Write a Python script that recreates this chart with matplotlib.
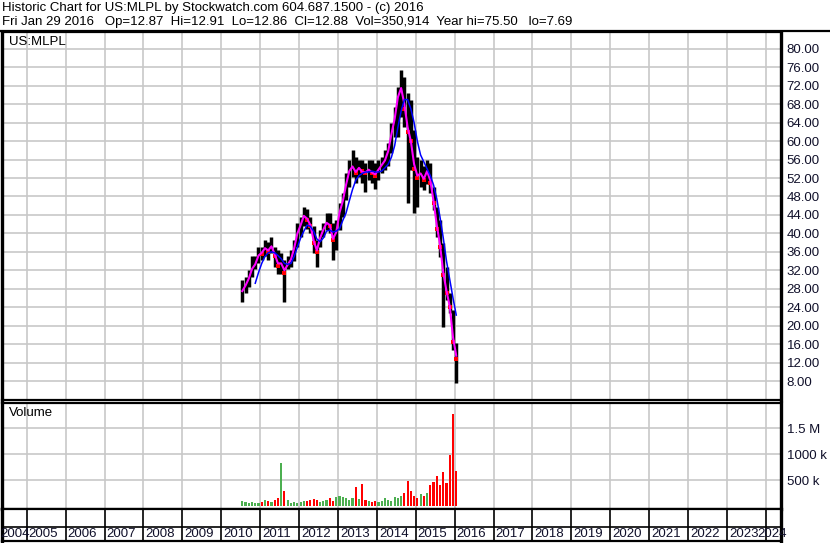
import matplotlib
matplotlib.use('Agg')
import matplotlib.pyplot as plt
import numpy as np

plt.rcParams['font.family'] = ['Liberation Sans', 'DejaVu Sans']

# monthly data, Jul 2010 .. Jan 2016
start_year = 2010
start_month = 7
highs = [29.8, 30.6, 32.0, 35.0, 35.0, 37.1,
         37.1, 38.6, 38.2, 39.3, 37.1, 36.4, 35.7, 34.2, 35.0, 36.4, 38.5, 42.2,
         43.6, 45.8, 45.3, 43.6, 41.5, 38.6, 40.7, 42.2, 44.4, 44.4, 42.2, 42.9,
         46.6, 48.7, 53.0, 55.9, 58.1, 56.6, 55.9, 55.9, 55.2, 55.9, 55.9, 55.2,
         55.9, 56.6, 58.1, 59.5, 63.9, 67.4, 71.7, 75.5, 73.9, 70.4, 68.9, 62.3,
         56.5, 55.9, 54.5, 55.9, 55.2, 50.0, 45.7, 42.9, 37.9, 32.7, 27.0, 23.4,
         16.3]
lows = [25.2, 27.0, 28.3, 30.6, 32.2, 33.5,
        34.2, 35.0, 34.2, 35.7, 32.8, 31.3, 31.3, 25.2, 32.2, 32.8, 34.0, 37.1,
        39.3, 41.5, 41.0, 40.0, 35.7, 32.8, 37.1, 39.3, 40.7, 40.0, 34.2, 36.4,
        40.7, 43.6, 47.2, 50.1, 52.3, 50.9, 52.2, 50.9, 49.0, 51.5, 50.9, 49.6,
        51.5, 53.0, 53.7, 54.5, 57.4, 60.9, 60.9, 65.2, 63.0, 46.6, 53.7, 44.4,
        45.7, 50.1, 49.4, 50.8, 48.7, 45.0, 39.2, 34.9, 19.8, 25.6, 22.7, 14.7,
        7.69]
closes = [28.0, 29.0, 30.5, 33.0, 33.5, 36.0,
          35.5, 37.0, 36.0, 37.5, 35.0, 33.0, 34.0, 31.5, 33.5, 34.5, 37.5, 40.5,
          42.0, 44.0, 43.0, 41.5, 38.0, 36.0, 39.5, 41.0, 42.5, 41.5, 38.5, 40.5,
          45.0, 47.0, 51.0, 54.0, 55.0, 53.0, 54.5, 53.5, 53.0, 54.0, 53.0, 52.5,
          54.0, 55.0, 56.0, 58.0, 62.0, 65.0, 70.0, 72.0, 67.0, 62.0, 60.0, 54.0,
          52.0, 53.0, 51.5, 54.0, 51.0, 46.5, 41.0, 37.0, 31.0, 27.0, 24.0, 16.5,
          12.88]
ma_short = [27.5, 28.7, 30.2, 32.3, 33.3, 35.2,
            35.8, 36.8, 36.3, 37.2, 35.5, 33.5, 33.5, 32.0, 33.2, 34.3, 36.8, 40.0,
            41.8, 43.8, 43.2, 41.8, 38.5, 36.3, 39.0, 40.8, 42.3, 41.8, 38.8, 40.3,
            44.5, 47.0, 50.5, 53.5, 54.5, 53.3, 54.2, 53.3, 53.2, 53.8, 53.2, 52.8,
            53.8, 54.8, 55.8, 57.8, 61.5, 64.8, 69.5, 71.5, 68.0, 63.0, 60.0, 55.0,
            52.5, 53.0, 51.8, 53.5, 51.5, 47.0, 41.8, 37.5, 31.5, 27.5, 24.2, 17.5,
            13.5]
# long average starts Nov 2010
ma_long = [29.2, 31.5,
           33.5, 35.0, 35.8, 36.0, 35.8, 35.2, 34.5, 33.5, 33.3, 33.5, 35.0, 37.0,
           39.0, 40.5, 41.8, 41.5, 40.5, 38.8, 38.2, 39.0, 40.5, 40.7, 40.3, 40.5,
           41.0, 42.8, 44.4, 47.0, 49.5, 51.5, 52.5, 53.0, 53.3, 53.3, 53.5, 53.3,
           53.3, 53.5, 54.2, 55.0, 56.5, 59.0, 63.0, 66.5, 69.0, 69.0, 67.0, 64.0,
           60.0, 57.0, 55.5, 54.0, 52.5, 50.5, 47.5, 43.5, 39.0, 34.0, 30.0, 26.0,
           22.3]
volume_k = [110, 90, 70, 80, 60, 70,
            90, 120, 110, 90, 130, 150, 827, 300, 120, 70, 80, 70,
            90, 100, 110, 120, 140, 120, 90, 100, 120, 150, 110, 170,
            200, 180, 150, 130, 160, 380, 140, 423, 130, 110, 90, 100,
            80, 110, 150, 120, 100, 180, 150, 200, 250, 487, 300, 200,
            150, 230, 200, 250, 400, 470, 583, 400, 654, 450, 987, 1775,
            680]

price_ticks = np.arange(8, 81, 4)
vol_ticks = [500, 1000, 1500]
vol_labels = ['500 k', '1000 k', '1.5 M']
years = list(range(2004, 2025))

header1 = 'Historic Chart for US:MLPL by Stockwatch.com 604.687.1500 - (c) 2016'
header2 = ('Fri Jan 29 2016   Op=12.87  Hi=12.91  Lo=12.86  Cl=12.88  '
           'Vol=350,914  Year hi=75.50   lo=7.69')

n = len(closes)
t = np.array([start_year + (start_month - 1 + i + 0.5) / 12 for i in range(n)])
t_long = t[n - len(ma_long):]

W, H = 830, 543
fig = plt.figure(figsize=(W / 100, H / 100), dpi=100)


def rect(x0, y0, x1, y1):
    return [x0 / W, 1 - y1 / H, (x1 - x0) / W, (y1 - y0) / H]


xlim = (2004.365, 2024.39)
px_per_year = 779 / (xlim[1] - xlim[0])
grid_c = '#c8c8c8'
fs = 9.5
txt_c = '#10102a'

# header
fig.text(2 / W, 1 - 8.5 / H, header1, fontsize=fs, va='center', ha='left')
fig.text(2 / W, 1 - 22.5 / H, header2, fontsize=fs, va='center', ha='left')

# price panel
ax = fig.add_axes(rect(2, 32, 781, 400))
ax.set_xticks(years[1:])
ax.set_yticks(price_ticks)
ax.set_xlim(*xlim)
ax.set_ylim(3.9, 83.64)
ax.grid(True, color=grid_c, lw=1.2)
ax.set_axisbelow(True)
ax.tick_params(length=0, labelbottom=False, labelleft=False, labelright=True,
               labelsize=fs, pad=4, labelcolor=txt_c)
ax.set_yticklabels(['%.2f' % v for v in price_ticks])

ax.vlines(t, lows, highs, color='black', lw=2.5, zorder=2)
prev = np.r_[closes[0], closes[:-1]]
down = np.array(closes) < prev
ax.plot(t[down], np.array(closes)[down], 's', color='red', ms=2.2, mew=0,
        zorder=3)
ax.plot(t, ma_short, color='#ff00ff', lw=1.5, zorder=4)
ax.plot(t_long, ma_long, color='#0000ff', lw=1.1, zorder=5)
ax.text(7 / 779, 1 - 10 / 368, 'US:MLPL', transform=ax.transAxes,
        fontsize=fs, va='center', ha='left')

# volume panel
vax = fig.add_axes(rect(2, 403, 781, 509))
vax.set_xticks(years[1:])
vax.set_yticks(vol_ticks)
vax.set_yticklabels(vol_labels)
vax.set_xlim(*xlim)
vax.set_ylim(-52, 1986)
vax.grid(True, color=grid_c, lw=1.2)
vax.set_axisbelow(True)
vax.tick_params(length=0, labelbottom=False, labelleft=False, labelright=True,
                labelsize=fs, pad=4, labelcolor=txt_c)
vcol = ['#ff0000' if d else '#4caf50' for d in down]
vax.bar(t, volume_k, width=0.055, bottom=0, color=vcol, lw=0)
vax.text(7 / 779, 1 - 10 / 106, 'Volume', transform=vax.transAxes,
         fontsize=fs, va='center', ha='left')

# date band
dax = fig.add_axes(rect(2, 509, 781, 541))
dax.set_xticks([])
dax.set_yticks([])
dax.set_xlim(*xlim)
dax.set_ylim(0, 1)
dax.vlines(years, 0, 1, color='black', lw=1.2)
dax.axhline(14 / 32, color='black', lw=1.2)
for y in years:
    if y == years[0]:
        dax.text(xlim[0] - 1.5 / px_per_year, 7 / 32, str(y), fontsize=fs,
                 va='center', ha='left', color=txt_c, clip_on=False)
    elif y == years[-1]:
        dax.text(xlim[1] + 6 / px_per_year, 7 / 32, str(y), fontsize=fs,
                 va='center', ha='right', color=txt_c, clip_on=False)
    else:
        dax.text(y + 2 / px_per_year, 7 / 32, str(y), fontsize=fs,
                 va='center', ha='left', color=txt_c)

for a in (ax, vax, dax):
    for s in a.spines.values():
        s.set_color('black')
        s.set_linewidth(1.6)
    a.spines['right'].set_linewidth(2.4)
    a.spines['left'].set_linewidth(2.4)

fig.add_artist(plt.Line2D([0, 1], [1 - 31 / H, 1 - 31 / H], color='black', lw=1.6))

fig.savefig('out.png', dpi=100)
